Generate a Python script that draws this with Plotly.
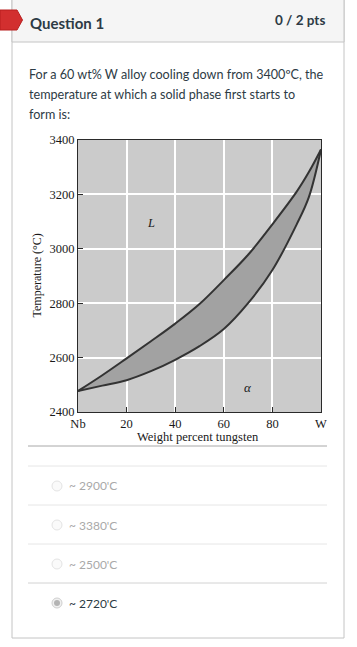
import plotly.graph_objects as go

W, H = 357, 647

# ---------------- data ----------------
wt_w = [0, 10, 20, 30, 40, 50, 60, 70, 80, 90, 95, 100]
liquidus = [2477, 2535, 2597, 2660, 2725, 2797, 2885, 2978, 3090, 3210, 3282, 3365]
solidus = [2477, 2497, 2517, 2550, 2592, 2642, 2705, 2800, 2922, 3090, 3190, 3365]
x_ticks = [0, 20, 40, 60, 80, 100]
x_tick_labels = ["Nb", "20", "40", "60", "80", "W"]
y_ticks = [2400, 2600, 2800, 3000, 3200, 3400]
options = ["~ 2900'C", "~ 3380'C", "~ 2500'C", "~ 2720'C"]
selected = 3

def px(x):
    return x / W

def py(y):
    return 1 - y / H

serif = "Liberation Serif, Times New Roman, serif"
sans = "Lato, Open Sans, sans-serif"

fig = go.Figure()
fig.add_trace(go.Scatter(x=wt_w, y=solidus, mode="lines",
                         line=dict(color="#333333", width=2, shape="spline", smoothing=1.0),
                         hoverinfo="skip", showlegend=False))
fig.add_trace(go.Scatter(x=wt_w, y=liquidus, mode="lines", fill="tonexty",
                         fillcolor="#a2a2a2",
                         line=dict(color="#333333", width=2, shape="spline", smoothing=1.0),
                         hoverinfo="skip", showlegend=False))

axis_common = dict(showline=True, mirror=True, linecolor="#2a2a2a", linewidth=1,
                   ticks="inside", ticklen=5, tickcolor="#2a2a2a",
                   showgrid=True, gridcolor="#ffffff", gridwidth=1.5, zeroline=False,
                   automargin=False,
                   tickfont=dict(family=serif, size=12.5, color="#1a1a1a"))

fig.update_layout(
    width=W, height=H, margin=dict(l=0, r=0, t=0, b=0, pad=0, autoexpand=False), autosize=False,
    paper_bgcolor="#ffffff", plot_bgcolor="#cbcbcb",
    xaxis=dict(domain=[px(78), px(321)], range=[0, 100], tickvals=x_ticks,
               ticktext=x_tick_labels, **axis_common),
    yaxis=dict(domain=[py(412), py(140)], range=[2400, 3400], tickvals=y_ticks,
               **axis_common),
)

shapes = []
shapes.append(dict(type="rect", xref="paper", yref="paper", x0=px(12), x1=px(344),
                   y0=py(638), y1=py(-3), line=dict(color="#c4c4c4", width=1),
                   fillcolor="rgba(0,0,0,0)", layer="below"))
shapes.append(dict(type="rect", xref="paper", yref="paper", x0=px(12), x1=px(344),
                   y0=py(42), y1=py(-3), line=dict(color="#c4c4c4", width=1),
                   fillcolor="#f5f5f5", layer="below"))
path = "M {0},{1} L {2},{1} L {3},{4} L {2},{5} L {0},{5} Z".format(
    px(0), py(10), px(17), px(22.5), py(20), py(30))
shapes.append(dict(type="path", xref="paper", yref="paper", path=path,
                   fillcolor="#d22f2f", line=dict(color="#b81f1f", width=1)))
for yline, col in [(446, "#a8a8a8"), (466, "#e6e6e6"), (505, "#e6e6e6"),
                   (544, "#e6e6e6"), (583, "#d2d2d2")]:
    shapes.append(dict(type="line", xref="paper", yref="paper", x0=px(28), x1=px(327),
                       y0=py(yline), y1=py(yline), line=dict(color=col, width=1)))

annotations = []
annotations.append(dict(text="<b>Question 1</b>", x=px(28), y=py(23), xref="paper", yref="paper",
                        xanchor="left", yanchor="middle", showarrow=False,
                        font=dict(family=sans, size=15, color="#2d3b45")))
annotations.append(dict(text="<b>0 / 2 pts</b>", x=px(327), y=py(20), xref="paper", yref="paper",
                        xanchor="right", yanchor="middle", showarrow=False,
                        font=dict(family=sans, size=13.5, color="#2d3b45")))
q_lines = ["For a 60 wt% W alloy cooling down from 3400ºC, the",
           "temperature at which a solid phase first starts to",
           "form is:"]
for i, t in enumerate(q_lines):
    annotations.append(dict(text=t, x=px(27), y=py(75 + 19.5 * i), xref="paper", yref="paper",
                            xanchor="left", yanchor="middle", showarrow=False,
                            font=dict(family=sans, size=12.6, color="#2d3b45")))

annotations.append(dict(text="Temperature (°C)", x=px(36.5), y=py(276), xref="paper", yref="paper",
                        xanchor="center", yanchor="middle", showarrow=False, textangle=-90,
                        font=dict(family=serif, size=12, color="#1a1a1a")))
annotations.append(dict(text="Weight percent tungsten", x=px(198), y=py(437), xref="paper", yref="paper",
                        xanchor="center", yanchor="middle", showarrow=False,
                        font=dict(family=serif, size=12.5, color="#1a1a1a")))
annotations.append(dict(text="<i>L</i>", x=30, y=3096, xref="x", yref="y", showarrow=False,
                        font=dict(family=serif, size=12.5, color="#1a1a1a")))
annotations.append(dict(text="<i>α</i>", x=70, y=2490, xref="x", yref="y", showarrow=False,
                        font=dict(family=serif, size=13, color="#1a1a1a")))

for i, opt in enumerate(options):
    yc = 486 + 39 * i
    sel = (i == selected)
    shapes.append(dict(type="circle", xref="paper", yref="paper",
                       x0=px(52), x1=px(62), y0=py(yc + 5), y1=py(yc - 5),
                       line=dict(color="#cfcfcf" if sel else "#e4e4e4", width=1),
                       fillcolor="#f0f0f0" if sel else "#fafafa"))
    if sel:
        shapes.append(dict(type="circle", xref="paper", yref="paper",
                           x0=px(54), x1=px(60), y0=py(yc + 3), y1=py(yc - 3),
                           line=dict(width=0), fillcolor="#b4b4b4"))
    annotations.append(dict(text=opt, x=px(67), y=py(yc), xref="paper", yref="paper",
                            xanchor="left", yanchor="middle", showarrow=False,
                            font=dict(family=sans, size=12, color="#2d3b45" if sel else "#a9a9a9")))

fig.update_layout(shapes=shapes, annotations=annotations)
post = ("document.documentElement.style.margin='0';document.documentElement.style.padding='0';"
        "document.body.style.margin='0';document.body.style.padding='0';"
        "document.body.style.overflow='hidden';"
        "var d=document.getElementById('{plot_id}');"
        "d.style.position='fixed';d.style.left='0px';d.style.top='0px';")
fig.write_html("out.html", config={"displayModeBar": False, "responsive": False},
               post_script=post)
